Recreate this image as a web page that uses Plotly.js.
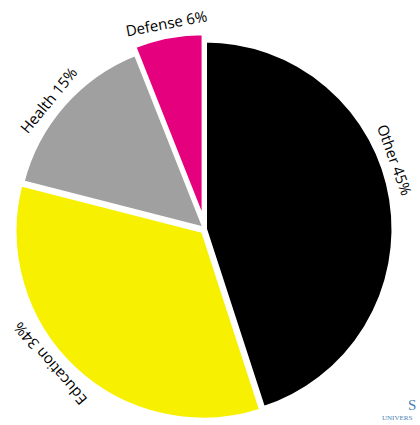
<!DOCTYPE html>
<html>
<head>
<meta charset="utf-8">
<script src="https://cdn.plot.ly/plotly-3.0.1.min.js"></script>
<style>html,body{margin:0;padding:0;background:#fff;overflow:hidden;}#chart{width:420px;height:425px;}</style>
</head>
<body>
<div id="chart"></div>
<script>
// ---- data ----
const labels = ['Other', 'Education', 'Health', 'Defense'];
const values = [45, 34, 15, 6];

// ---- style ----
const colors = ['#000000', '#f7f000', '#a0a0a0', '#e5007d'];
const pulls = [0, 0.015, 0, 0.04];
const labelAngleNudge = [-11, 6, -2, 0];   // degrees, label placement tweak
const labelGap = 14;

const W = 420, H = 425;
const dom = {x: [9 / W, 401 / W], y: [0, 392 / H]};
const maxPull = Math.max(...pulls);
const cx = (dom.x[0] + dom.x[1]) / 2 * W;
const cy = H - (dom.y[0] + dom.y[1]) / 2 * H;
const R = Math.min((dom.x[1] - dom.x[0]) * W, (dom.y[1] - dom.y[0]) * H) / (2 + 2 * maxPull);

const total = values.reduce((a, b) => a + b, 0);
const annotations = [];
let cum = 0;
values.forEach((v, i) => {
  const mid = (cum + v / 2) / total * 360;
  cum += v;
  const tm = mid * Math.PI / 180;
  const pc = {x: cx + pulls[i] * R * Math.sin(tm), y: cy - pulls[i] * R * Math.cos(tm)};
  const theta = mid + labelAngleNudge[i];
  const t = theta * Math.PI / 180;
  const rr = R + labelGap;
  const px = pc.x + rr * Math.sin(t);
  const py = pc.y - rr * Math.cos(t);
  annotations.push({
    x: px / W, y: 1 - py / H, xref: 'paper', yref: 'paper',
    text: labels[i] + ' ' + Math.round(v / total * 100) + '%',
    showarrow: false, xanchor: 'center', yanchor: 'middle',
    textangle: theta > 180 ? theta - 360 : theta,
    font: {family: 'Open Sans, sans-serif', size: 15, color: '#000'}
  });
});
annotations.push({x: 418 / W, y: 1 - 405 / H, xref: 'paper', yref: 'paper', text: 'S', showarrow: false,
  xanchor: 'right', yanchor: 'middle', font: {family: 'Liberation Serif, serif', size: 15, color: '#4a7fb0'}});
annotations.push({x: 380 / W, y: 1 - 418 / H, xref: 'paper', yref: 'paper', text: 'UNIVERS', showarrow: false,
  xanchor: 'left', yanchor: 'middle', font: {family: 'Liberation Serif, serif', size: 7, color: '#4a7fb0'}});

Plotly.newPlot('chart', [{
  type: 'pie',
  labels: labels,
  values: values,
  sort: false,
  direction: 'clockwise',
  rotation: 0,
  pull: pulls,
  textinfo: 'none',
  hoverinfo: 'label+percent',
  marker: {colors: colors, line: {color: '#ffffff', width: 4}},
  domain: dom
}], {
  width: W, height: H,
  margin: {l: 0, r: 0, t: 0, b: 0},
  showlegend: false,
  paper_bgcolor: '#ffffff',
  annotations: annotations
}, {displayModeBar: false, staticPlot: true});
</script>
</body>
</html>
